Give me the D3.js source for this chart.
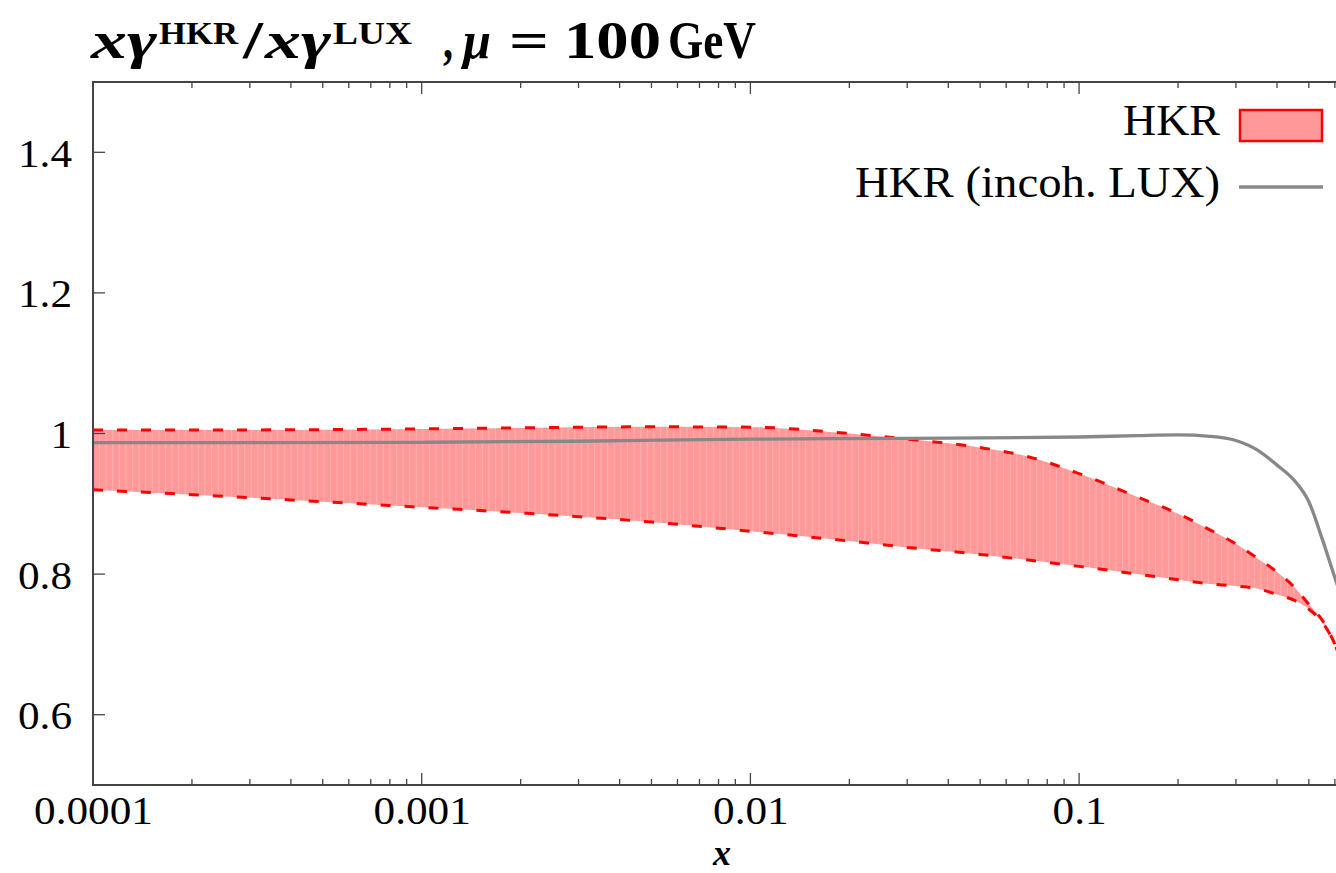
<!DOCTYPE html>
<html>
<head>
<meta charset="utf-8">
<script src="https://cdn.jsdelivr.net/npm/d3@7"></script>
<style>
  html, body { margin: 0; padding: 0; background: #fff; overflow: hidden; }
  svg { display: block; }
</style>
</head>
<body>
<svg id="chart" width="1336" height="873"></svg>
<script>
// ---- data ----
const bandX     = [1e-4, 2e-4, 5e-4, 1e-3, 2e-3, 5e-3, 0.01, 0.02, 0.03, 0.05, 0.07, 0.1, 0.15, 0.2, 0.25, 0.3, 0.35, 0.4, 0.45, 0.5, 0.55, 0.6, 0.62];
const bandUpper = [1.005, 1.005, 1.0055, 1.0065, 1.008, 1.0095, 1.009, 1.000, 0.992, 0.980, 0.967, 0.943, 0.910, 0.886, 0.863, 0.843, 0.822, 0.803, 0.782, 0.757, 0.734, 0.700, 0.683];
const bandLower = [0.920, 0.913, 0.903, 0.895, 0.887, 0.874, 0.861, 0.847, 0.838, 0.828, 0.820, 0.811, 0.800, 0.792, 0.786, 0.783, 0.779, 0.771, 0.763, 0.750, 0.731, 0.700, 0.683];
const incohX    = [1e-4, 1e-3, 3e-3, 0.01, 0.03, 0.1, 0.15, 0.2, 0.25, 0.3, 0.35, 0.4, 0.45, 0.5, 0.55, 0.6, 0.62];
const incohY    = [0.987, 0.9875, 0.989, 0.992, 0.993, 0.995, 0.997, 0.998, 0.996, 0.990, 0.976, 0.955, 0.934, 0.903, 0.849, 0.795, 0.775];
const xTickValues = [1e-4, 1e-3, 1e-2, 1e-1];
const xTickLabels = ["0.0001", "0.001", "0.01", "0.1"];
const yTickValues = [0.6, 0.8, 1.0, 1.2, 1.4];
const yTickLabels = ["0.6", "0.8", "1", "1.2", "1.4"];
const legendLabels = ["HKR", "HKR (incoh. LUX)"];

// ---- layout ----
const L = 93, T = 82, B = 785, decade = 328.7;
const W = 1336, H = 873;
const xMax = 1;
const x = d3.scaleLog().domain([1e-4, xMax]).range([L, L + 4 * decade]);
const y = d3.scaleLinear().domain([0.5, 1.5]).range([B, T]);

const svg = d3.select("#chart");
const defs = svg.append("defs");
defs.append("clipPath").attr("id", "plotclip")
  .append("rect").attr("x", L).attr("y", T).attr("width", W - L).attr("height", B - T);
const pat = defs.append("pattern").attr("id", "stripes")
  .attr("patternUnits", "userSpaceOnUse").attr("width", 6.6).attr("height", 20);
pat.append("rect").attr("width", 6.6).attr("height", 20).attr("fill", "#ff9999");
pat.append("rect").attr("width", 1).attr("height", 20).attr("fill", "#ffb0b0");

const frameColor = "#444";
const serif = "'Liberation Serif', 'Times New Roman', serif";

const plot = svg.append("g").attr("clip-path", "url(#plotclip)");

const band = bandX.map((v, i) => ({x: v, lo: bandLower[i], hi: bandUpper[i]}));
plot.append("path").datum(band)
  .attr("d", d3.area().x(d => x(d.x)).y0(d => y(d.lo)).y1(d => y(d.hi)).curve(d3.curveMonotoneX))
  .attr("fill", "url(#stripes)");

["hi", "lo"].forEach(k => {
  plot.append("path").datum(band)
    .attr("d", d3.line().x(d => x(d.x)).y(d => y(d[k])).curve(d3.curveMonotoneX))
    .attr("fill", "none").attr("stroke", "#ff0000").attr("stroke-width", 3)
    .attr("stroke-dasharray", "10,14");
});

plot.append("path").datum(incohX.map((v, i) => ({x: v, y: incohY[i]})))
  .attr("d", d3.line().x(d => x(d.x)).y(d => y(d.y)).curve(d3.curveMonotoneX))
  .attr("fill", "none").attr("stroke", "#888888").attr("stroke-width", 3.3);

// ---- axes ----
const minor = [];
for (let e = -4; e < 0; e++) for (let m = 2; m <= 9; m++) minor.push(m * Math.pow(10, e));

function widen(sel, f) {
  sel.each(function() {
    const w = this.getComputedTextLength();
    d3.select(this).attr("textLength", w * f).attr("lengthAdjust", "spacingAndGlyphs");
  });
}

const axisBottom = d3.axisBottom(x).tickValues(xTickValues).tickFormat((d, i) => xTickLabels[i]).tickSize(0).tickPadding(0);
const gx = svg.append("g").attr("transform", `translate(0,${B})`).call(axisBottom);
gx.select(".domain").remove();
gx.selectAll("text").attr("font-family", serif).attr("font-size", 40).attr("fill", "#000")
  .attr("y", 39).attr("dy", null);
widen(gx.selectAll("text"), 1.08);

const axisLeft = d3.axisLeft(y).tickValues(yTickValues).tickFormat((d, i) => yTickLabels[i]).tickSize(0).tickPadding(21);
const gy = svg.append("g").attr("transform", `translate(${L},0)`).call(axisLeft);
gy.select(".domain").remove();
gy.selectAll("text").attr("font-family", serif).attr("font-size", 40).attr("fill", "#000").attr("dy", "0.35em");
widen(gy.selectAll("text"), 1.08);

const ticks = svg.append("g").attr("clip-path", "url(#plotclip)")
  .attr("stroke", frameColor).attr("stroke-width", 1.3);
xTickValues.forEach(v => {
  ticks.append("line").attr("x1", x(v)).attr("x2", x(v)).attr("y1", B).attr("y2", B - 12);
  ticks.append("line").attr("x1", x(v)).attr("x2", x(v)).attr("y1", T).attr("y2", T + 12);
});
minor.forEach(v => {
  ticks.append("line").attr("x1", x(v)).attr("x2", x(v)).attr("y1", B).attr("y2", B - 6);
  ticks.append("line").attr("x1", x(v)).attr("x2", x(v)).attr("y1", T).attr("y2", T + 6);
});
yTickValues.forEach(v => {
  ticks.append("line").attr("x1", L).attr("x2", L + 12).attr("y1", y(v)).attr("y2", y(v));
});

// frame (right side lies outside the picture)
svg.append("path")
  .attr("d", `M${W + 5},${T}H${L}V${B}H${W + 5}`)
  .attr("fill", "none").attr("stroke", frameColor).attr("stroke-width", 2);

// ---- legend ----
const lg = svg.append("g").attr("font-family", serif).attr("font-size", 45).attr("fill", "#000");
lg.append("text").attr("x", 1220).attr("y", 135).attr("text-anchor", "end").text(legendLabels[0])
  .attr("textLength", 97).attr("lengthAdjust", "spacingAndGlyphs");
lg.append("text").attr("x", 1220).attr("y", 197).attr("text-anchor", "end").text(legendLabels[1])
  .attr("textLength", 365).attr("lengthAdjust", "spacingAndGlyphs");
svg.append("rect").attr("x", 1240).attr("y", 110).attr("width", 82).attr("height", 31)
  .attr("fill", "#ff9999").attr("stroke", "#ff0000").attr("stroke-width", 2.5);
svg.append("line").attr("x1", 1239).attr("x2", 1323).attr("y1", 187).attr("y2", 187)
  .attr("stroke", "#888888").attr("stroke-width", 3.3);

// ---- title (pieces placed like the typeset math) ----
const tg = svg.append("g").attr("font-family", serif).attr("font-weight", "bold").attr("fill", "#000");
const base = 58, sup = base - 14;
const pieces = [
  {t: "xγ",  x: 91,  w: 66, s: 52, y: base, it: true},
  {t: "HKR", x: 159, w: 79, s: 32, y: sup},
  {t: "/",   x: 243, w: 20, s: 52, y: base},
  {t: "xγ",  x: 265, w: 66, s: 52, y: base, it: true},
  {t: "LUX", x: 333, w: 79, s: 32, y: sup},
  {t: ",",   x: 443, w: 10, s: 52, y: base},
  {t: "μ",   x: 463, w: 28, s: 52, y: base, it: true},
  {t: "=",   x: 509, w: 40, s: 52, y: base},
  {t: "100", x: 564, w: 97, s: 52, y: base},
  {t: "GeV", x: 668, w: 88, s: 52, y: base}
];
pieces.forEach(p => {
  tg.append("text").attr("x", p.x).attr("y", p.y).attr("font-size", p.s)
    .attr("font-style", p.it ? "italic" : null)
    .attr("textLength", p.w).attr("lengthAdjust", "spacingAndGlyphs").text(p.t);
});

// ---- x label ----
svg.append("text").attr("x", 722).attr("y", 865).attr("text-anchor", "middle")
  .attr("font-family", serif).attr("font-size", 36).attr("font-weight", "bold").attr("font-style", "italic")
  .text("x");
</script>
</body>
</html>
